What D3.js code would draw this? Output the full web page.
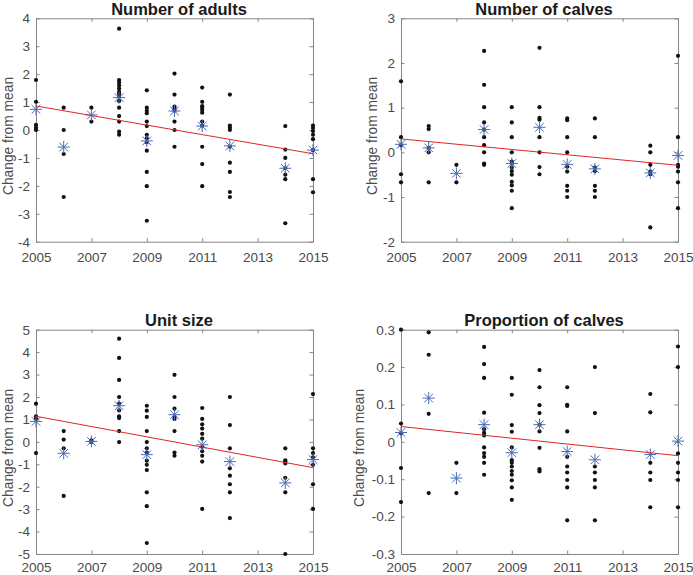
<!DOCTYPE html>
<html><head><meta charset="utf-8">
<script src="https://cdn.jsdelivr.net/npm/d3@7"></script>
<style>
html,body{margin:0;padding:0;background:#fff;}
svg{display:block;font-family:"Liberation Sans",Arial,Helvetica,sans-serif;}
</style></head>
<body>
<svg id="chart" width="693" height="575"></svg>
<script>
const years = [2005, 2006, 2007, 2008, 2009, 2010, 2011, 2012, 2014, 2015];
const xTickYears = [2005, 2007, 2009, 2011, 2013, 2015];

const adultsPts = [
 [1.79, 1.01, 0.18, 0.08, 0.0],
 [0.80, 0.0, -0.86, -2.40],
 [0.80, 0.30],
 [3.63, 1.79, 1.70, 1.60, 1.49, 1.37, 1.29, 1.19, 1.04, 0.80, 0.50, 0.30, -0.06, -0.17],
 [1.42, 0.80, 0.69, 0.60, 0.30, 0.14, -0.17, -0.30, -0.44, -0.74, -1.50, -2.01, -3.25],
 [2.02, 1.27, 0.84, 0.76, 0.69, 0.30, 0.0, -0.60],
 [1.52, 1.01, 0.86, 0.81, 0.72, 0.62, 0.30, 0.16, -0.60, -1.22, -2.01],
 [1.27, 0.16, 0.08, 0.0, -0.60, -1.17, -1.50, -2.22, -2.40],
 [0.14, -0.70, -1.00, -1.37, -1.60, -1.76, -3.34],
 [0.16, 0.07, -0.04, -0.17, -0.33, -0.72, -1.76, -2.23]
];
const adultsMean = [0.74, -0.61, 0.54, 1.16, -0.39, 0.68, 0.14, -0.57, -1.37, -0.72];
const adultsTrend = [0.86, -0.85];
const adultsTicks = [-4, -3, -2, -1, 0, 1, 2, 3, 4];

const calvesPts = [
 [1.59, 0.34, 0.16, -0.49, -0.67],
 [0.59, 0.52, 0.10, 0.0, -0.67],
 [-0.28, -0.67],
 [2.27, 1.51, 1.01, 0.67, 0.51, 0.34, 0.16, 0.0, -0.25, -0.28],
 [1.01, 0.67, 0.34, 0.0, -0.21, -0.25, -0.34, -0.42, -0.50, -0.66, -0.74, -0.86, -1.25],
 [2.34, 1.01, 0.77, 0.73, 0.34, 0.0, -0.33, -0.49],
 [0.76, 0.72, 0.34, 0.0, -0.32, -0.43, -0.75, -0.86, -1.00],
 [0.76, 0.34, -0.34, -0.42, -0.75, -0.86, -1.00],
 [0.15, 0.0, -0.28, -0.43, -0.49, -1.68],
 [2.16, 0.34, -0.28, -0.32, -0.43, -0.67, -1.25]
];
const calvesMean = [0.18, 0.10, -0.47, 0.51, -0.25, 0.56, -0.27, -0.37, -0.46, -0.07];
const calvesTrend = [0.30, -0.29];
const calvesTicks = [-2, -1, 0, 1, 2, 3];

const unitPts = [
 [1.70, 1.14, 1.03, -0.50],
 [0.48, 0.10, -0.29, -2.41],
 [0.07, -0.01],
 [4.60, 3.74, 2.76, 2.00, 1.70, 1.40, 1.14, 1.06, 0.48, -0.01],
 [1.61, 1.39, 1.11, 0.48, -0.01, -0.29, -0.48, -0.84, -1.02, -1.26, -2.25, -2.87, -4.51],
 [2.99, 2.00, 1.48, 1.12, 1.02, 0.48, -0.48, -0.62],
 [1.51, 1.02, 0.78, 0.59, 0.36, 0.14, -0.22, -0.42, -0.62, -0.88, -2.99],
 [2.00, 0.75, -0.29, -1.18, -1.51, -1.89, -2.25, -3.40],
 [-0.29, -0.82, -0.88, -0.96, -1.60, -2.25, -5.00],
 [2.13, -0.29, -0.50, -0.69, -1.02, -1.89, -2.99]
];
const unitMean = [0.91, -0.51, 0.02, 1.61, -0.57, 1.21, -0.13, -0.88, -1.83, -0.79];
const unitTrend = [1.14, -1.15];
const unitTicks = [-5, -4, -3, -2, -1, 0, 1, 2, 3, 4, 5];

const propPts = [
 [0.300, 0.049, 0.023, -0.070, -0.161],
 [0.293, 0.233, 0.075, -0.137],
 [-0.056, -0.137],
 [0.254, 0.208, 0.171, 0.078, 0.034, 0.024, 0.017, -0.015, -0.030, -0.040, -0.056, -0.088],
 [0.171, 0.126, 0.045, 0.027, -0.015, -0.049, -0.056, -0.066, -0.078, -0.088, -0.103, -0.122, -0.155],
 [0.192, 0.146, 0.098, 0.077, 0.046, 0.028, -0.016, -0.073, -0.079],
 [0.146, 0.099, 0.096, 0.028, -0.040, -0.066, -0.082, -0.102, -0.122, -0.210],
 [0.200, 0.077, -0.066, -0.082, -0.102, -0.122, -0.210],
 [0.128, 0.079, -0.056, -0.082, -0.102, -0.175],
 [0.255, 0.200, -0.031, -0.056, -0.082, -0.102, -0.175]
];
const propMean = [0.025, 0.117, -0.097, 0.046, -0.029, 0.046, -0.026, -0.048, -0.034, 0.002];
const propTrend = [0.041, -0.037];
const propTicks = [-0.3, -0.2, -0.1, 0, 0.1, 0.2, 0.3];

const titles = ["Number of adults", "Number of calves", "Unit size", "Proportion of calves"];
const yLabel = "Change from mean";

const panels = [
  {title: titles[0], pts: adultsPts, mean: adultsMean, trend: adultsTrend, ticks: adultsTicks,
   box: {l: 36, r: 313, t: 18.3, b: 241.7}, labX: 8, tPad: 11},
  {title: titles[1], pts: calvesPts, mean: calvesMean, trend: calvesTrend, ticks: calvesTicks,
   box: {l: 401, r: 678, t: 18.3, b: 241.7}, labX: 372, tPad: 11},
  {title: titles[2], pts: unitPts, mean: unitMean, trend: unitTrend, ticks: unitTicks,
   box: {l: 36, r: 313, t: 329.7, b: 554}, labX: 8, tPad: 8.5},
  {title: titles[3], pts: propPts, mean: propMean, trend: propTrend, ticks: propTicks,
   box: {l: 401, r: 678, t: 329.7, b: 554}, labX: 359, tPad: 8.5}
];

const svg = d3.select("#chart");
const axisColor = "#858585";
const textColor = "#4a4a4a";
const fmt = d => {
  const v = Math.round(d * 10) / 10;
  return v === 0 ? "0" : String(v);
};

panels.forEach(p => {
  const b = p.box;
  const x = d3.scaleLinear().domain([2005, 2015]).range([b.l, b.r]);
  const y = d3.scaleLinear().domain([d3.min(p.ticks), d3.max(p.ticks)]).range([b.b, b.t]);
  const g = svg.append("g");

  const styleAxis = sel => {
    sel.selectAll("path.domain").attr("stroke", axisColor).attr("stroke-width", 1);
    sel.selectAll(".tick line").attr("stroke", axisColor);
    sel.selectAll("text").attr("fill", textColor).attr("font-size", "13.5px")
      .attr("font-family", "'Liberation Sans', Arial, sans-serif");
  };
  g.append("g").attr("transform", `translate(0,${b.b})`)
    .call(d3.axisBottom(x).tickValues(xTickYears).tickFormat(d3.format("d")).tickSizeInner(-3.5).tickSizeOuter(0).tickPadding(p.tPad))
    .call(styleAxis);
  g.append("g").attr("transform", `translate(0,${b.t})`)
    .call(d3.axisTop(x).tickValues(xTickYears).tickFormat("").tickSizeInner(-3.5).tickSizeOuter(0))
    .call(styleAxis);
  g.append("g").attr("transform", `translate(${b.l},0)`)
    .call(d3.axisLeft(y).tickValues(p.ticks).tickFormat(fmt).tickSizeInner(-3.5).tickSizeOuter(0).tickPadding(6))
    .call(styleAxis);
  g.append("g").attr("transform", `translate(${b.r},0)`)
    .call(d3.axisRight(y).tickValues(p.ticks).tickFormat("").tickSizeInner(-3.5).tickSizeOuter(0))
    .call(styleAxis);
  g.selectAll("g").attr("font-family", null);

  // title
  g.append("text")
    .attr("x", (b.l + b.r) / 2 + 4.5).attr("y", b.t - 3.5)
    .attr("text-anchor", "middle").attr("font-weight", "bold")
    .attr("font-size", "16.5px").attr("fill", "#1a1a1a")
    .text(p.title);

  // y label
  g.append("text")
    .attr("transform", `translate(${p.labX},${(b.t + b.b) / 2 + 6}) rotate(-90)`)
    .attr("text-anchor", "middle").attr("dy", "0.35em")
    .attr("font-size", "13.8px").attr("fill", textColor)
    .text(yLabel);

  // points
  const flat = [];
  p.pts.forEach((arr, i) => arr.forEach(v => flat.push({yr: years[i], v})));
  g.append("g").selectAll("circle").data(flat).join("circle")
    .attr("cx", d => x(d.yr)).attr("cy", d => y(d.v)).attr("r", 2.1)
    .attr("fill", "#111");

  // means (asterisks)
  const R = 6, D = 4.3;
  const star = `M${-R},0L${R},0M0,${-R}L0,${R}M${-D},${-D}L${D},${D}M${-D},${D}L${D},${-D}`;
  g.append("g").selectAll("path").data(p.mean.map((v, i) => ({yr: years[i], v}))).join("path")
    .attr("transform", d => `translate(${x(d.yr)},${y(d.v)})`)
    .attr("d", star).attr("fill", "none").attr("stroke", "#4a6bb5").attr("stroke-width", 1);

  // trend line
  const line = d3.line().x(d => x(d[0])).y(d => y(d[1]));
  g.append("path").datum([[2005, p.trend[0]], [2015, p.trend[1]]])
    .attr("d", line).attr("fill", "none").attr("stroke", "#e02525").attr("stroke-width", 1);
});
</script>
</body></html>
